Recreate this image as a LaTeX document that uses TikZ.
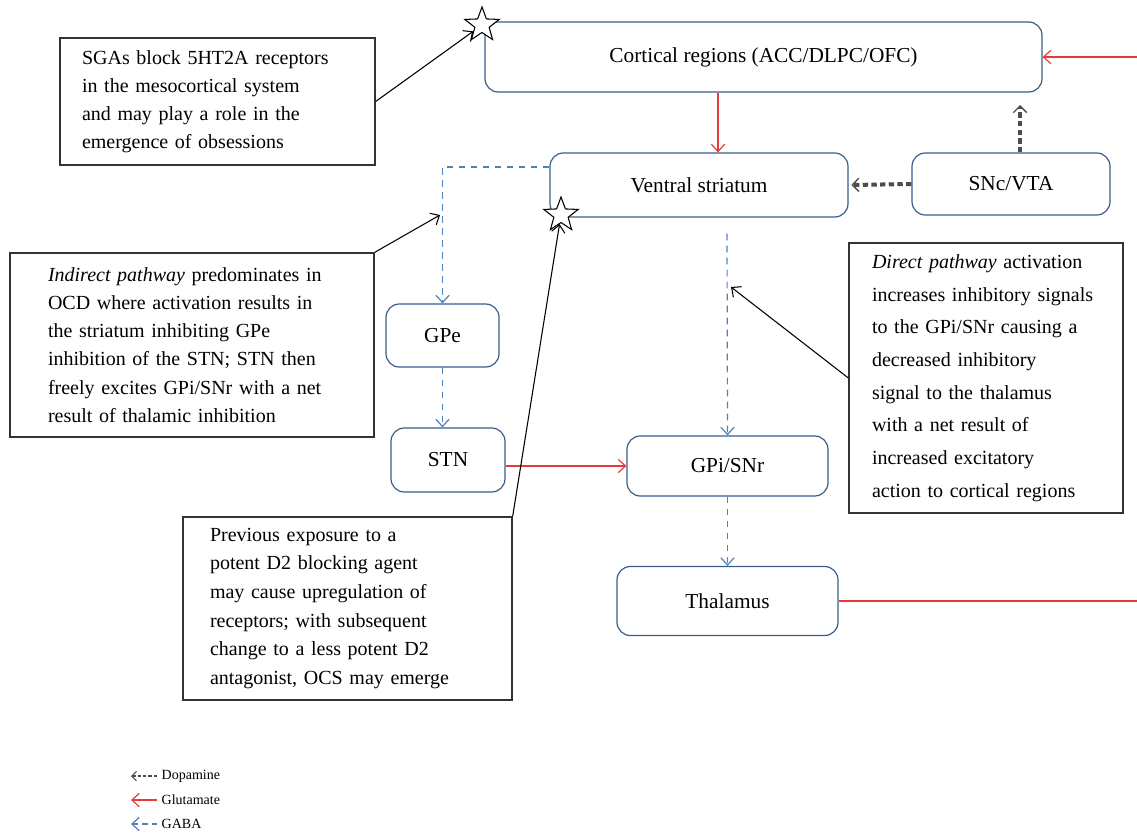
\documentclass[tikz,border=0pt]{standalone}
\usepackage{fontspec}
\setmainfont{Liberation Serif}
\usepackage{tikz}
\usetikzlibrary{arrows.meta,shapes.geometric}

\definecolor{boxblue}{RGB}{56,93,138}
\definecolor{gababl}{RGB}{79,129,189}
\definecolor{glured}{RGB}{232,58,58}

\tikzset{
  region/.style={draw=boxblue, line width=0.9pt, rounded corners=10pt, align=center,
    font=\fontsize{16}{19.5}\selectfont},
  notebox/.style={draw=black!80, line width=1pt, align=left},
  starmark/.style={star, star points=5, star point ratio=2.4, draw, fill=white,
    line width=0.8pt, minimum size=27pt, inner sep=0pt},
  barb/.tip={Straight Barb[length=5.5pt,width=10pt]},
  glu/.style={draw=glured, line width=0.9pt, -barb},
  gaba/.style={draw=gababl, line width=0.9pt, dash pattern=on 5pt off 4pt, -barb},
  dopa/.style={draw=black!70, line width=3pt, dash pattern=on 4pt off 2.5pt,
    -{Straight Barb[length=5pt,width=10pt,line width=1pt]}},
  note/.style={draw=black, line width=0.8pt, -barb},
  legtext/.style={anchor=west, font=\fontsize{10.5}{12}\selectfont},
}

\begin{document}
\begin{tikzpicture}[x=0.75pt, y=-0.75pt]
  \useasboundingbox (0,0) rectangle (1137,839);

  % Brain regions
  \node[region, minimum width=417.75pt, minimum height=52.5pt] (cortex) at (763.5,57) {Cortical regions (ACC/DLPC/OFC)};
  \node[region, minimum width=223.5pt, minimum height=48pt] (vs) at (699,185) {Ventral striatum};
  \node[region, minimum width=148.5pt, minimum height=46.5pt] (snc) at (1011,184) {SNc/VTA};
  \node[region, minimum width=84.75pt, minimum height=47.25pt] (gpe) at (442.5,335.5) {GPe};
  \node[region, minimum width=85.5pt, minimum height=48pt] (stn) at (448,460) {STN};
  \node[region, minimum width=150.75pt, minimum height=45pt] (gpi) at (727.5,466) {GPi/SNr};
  \node[region, minimum width=165.75pt, minimum height=51.75pt] (thal) at (727.5,601) {Thalamus};

  % Annotation boxes
  \node[notebox, font=\fontsize{15}{21}\selectfont, text width=203.25pt, inner xsep=16.5pt,
    minimum height=95.25pt] (sga) at (217.5,101.5)
    {SGAs block 5HT2A receptors\\in the mesocortical system\\and may play a role in the\\emergence of obsessions};
  \node[notebox, font=\fontsize{15}{21.2}\selectfont, text width=216pt, inner xsep=28.5pt,
    minimum height=138pt] (ind) at (192,345)
    {\textit{Indirect pathway} predominates in\\OCD where activation results in\\the striatum inhibiting GPe\\inhibition of the STN; STN then\\freely excites GPi/SNr with a net\\result of thalamic inhibition};
  \node[notebox, font=\fontsize{15}{24.5}\selectfont, text width=171pt, inner xsep=17.25pt,
    minimum height=202.5pt] (dir) at (986,378)
    {\textit{Direct pathway} activation\\increases inhibitory signals\\to the GPi/SNr causing a\\decreased inhibitory\\signal to the thalamus\\with a net result of\\increased excitatory\\action to cortical regions};
  \node[notebox, font=\fontsize{15}{21.5}\selectfont, text width=206.25pt, inner xsep=20.25pt,
    minimum height=137.25pt] (prev) at (347.5,608.5)
    {Previous exposure to a\\potent D2 blocking agent\\may cause upregulation of\\receptors; with subsequent\\change to a less potent D2\\antagonist, OCS may emerge};

  % Stars on the box corners
  \node[starmark] (s1) at (482,25) {};
  \node[starmark] (s2) at (561,215) {};

  % Free ends
  \coordinate (gin) at (1137,57);
  \coordinate (gout) at (1137,601);
  \coordinate (dtop) at (1020,105);
  \coordinate (indtip) at (440,215);
  \coordinate (dirtip) at (731,287);

  % Glutamate
  \draw[glu] (gin) -- (gin -| cortex.east);
  \draw[glu] ([xshift=-34.1pt]cortex.south) -- ([xshift=-34.1pt]vs.north -| cortex.south);
  \draw[glu] (stn.east |- gpi.west) -- (gpi.west);
  \draw[draw=glured, line width=0.9pt] (thal.east) -- (gout);

  % GABA
  \draw[gaba] ([yshift=13.5pt]vs.west) -| (gpe.north);
  \draw[gaba] (gpe.south) -- (gpe.south |- stn.north);
  \draw[gaba] ([xshift=21pt,yshift=-12pt]vs.south) -- (gpi.north);
  \draw[gaba] (gpi.south) -- (thal.north);

  % Dopamine
  \draw[dopa] (snc.west) -- ([xshift=2pt]vs.east);
  \draw[dopa] (snc.north -| dtop) -- (dtop);

  % Notes pointing in
  \draw[note] (sga.east) -- (s1);
  \draw[note] (ind.north east) -- (indtip);
  \draw[note] (dir.west) -- (dirtip);
  \draw[note] (prev.north east) -- (s2);

  % Legend
  \node[legtext] (ldop) at (157,776) {Dopamine};
  \node[legtext] (lglu) at (157,800) {Glutamate};
  \node[legtext] (lgaba) at (157,824) {GABA};
  \coordinate (ldopend) at (131,776);
  \coordinate (lgluend) at (131,800);
  \coordinate (lgabaend) at (131,824);
  \draw[dopa, line width=2pt, dash pattern=on 2.5pt off 1.5pt,
    -{Straight Barb[length=3.5pt,width=7pt,line width=0.8pt]}] (ldop.west) -- (ldopend);
  \draw[glu] (lglu.west) -- (lgluend);
  \draw[gaba, dash pattern=on 4pt off 3pt] (lgaba.west) -- (lgabaend);
\end{tikzpicture}
\end{document}
